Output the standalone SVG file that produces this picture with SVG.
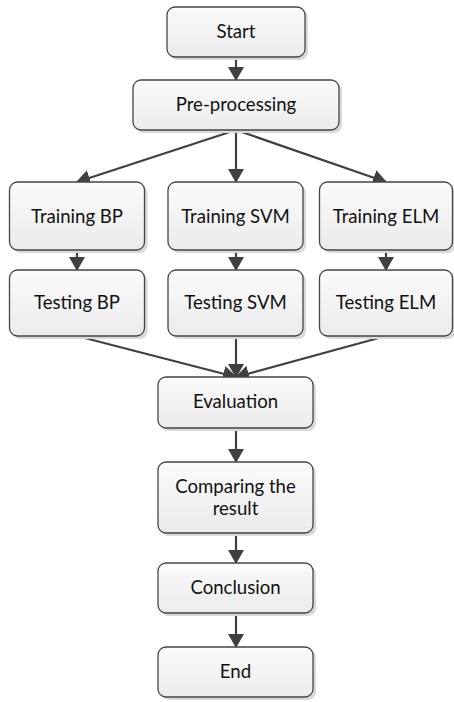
<svg xmlns="http://www.w3.org/2000/svg" width="454" height="702" viewBox="0 0 454 702">
<defs>
<linearGradient id="g" x1="0" y1="0" x2="0" y2="1">
<stop offset="0" stop-color="#fbfbfb"/>
<stop offset="1" stop-color="#ebebeb"/>
</linearGradient>
<marker id="ah" markerUnits="userSpaceOnUse" markerWidth="14" markerHeight="16" refX="13" refY="8" orient="auto" viewBox="0 0 14 16">
<path d="M0,0 L14,8 L0,16 z" fill="#404040"/>
</marker>
<style>
.sh{fill:#d9d9d9;stroke:none}
.bx{fill:url(#g);stroke:#454545;stroke-width:1.3}
.t{font-family:Lato,"Liberation Sans",sans-serif;font-size:18.6px;fill:#111;text-anchor:middle}
.c{stroke:#404040;stroke-width:2.2;fill:none;marker-end:url(#ah)}
</style>
</defs>
<g id="connectors">
<line class="c" x1="236" y1="57" x2="236" y2="80"/>
<line class="c" x1="236" y1="130" x2="77" y2="182"/>
<line class="c" x1="236" y1="130" x2="236" y2="182"/>
<line class="c" x1="236" y1="130" x2="386" y2="182"/>
<line class="c" x1="77" y1="250" x2="77" y2="270"/>
<line class="c" x1="236" y1="250" x2="236" y2="270"/>
<line class="c" x1="386" y1="250" x2="386" y2="270"/>
<line class="c" x1="77" y1="336" x2="236" y2="377"/>
<line class="c" x1="236" y1="336" x2="236" y2="377"/>
<line class="c" x1="386" y1="336" x2="236" y2="377"/>
<line class="c" x1="236" y1="428" x2="236" y2="462"/>
<line class="c" x1="236" y1="533" x2="236" y2="563"/>
<line class="c" x1="236" y1="613" x2="236" y2="647"/>
</g>
<g id="start">
<rect class="sh" x="170" y="10" width="138" height="50" rx="8"/>
<rect class="bx" x="167" y="7" width="138" height="50" rx="8"/>
<text class="t" x="236" y="38">Start</text>
</g>
<g id="preprocessing">
<rect class="sh" x="136" y="83" width="206" height="50" rx="8"/>
<rect class="bx" x="133" y="80" width="206" height="50" rx="8"/>
<text class="t" x="236" y="111">Pre-processing</text>
</g>
<g id="training-bp">
<rect class="sh" x="12.5" y="185" width="135" height="68" rx="8"/>
<rect class="bx" x="9.5" y="182" width="135" height="68" rx="8"/>
<text class="t" x="77" y="223">Training BP</text>
</g>
<g id="training-svm">
<rect class="sh" x="171" y="185" width="135" height="68" rx="8"/>
<rect class="bx" x="168" y="182" width="135" height="68" rx="8"/>
<text class="t" x="235.5" y="223">Training SVM</text>
</g>
<g id="training-elm">
<rect class="sh" x="322.5" y="185" width="133" height="68" rx="8"/>
<rect class="bx" x="319.5" y="182" width="133" height="68" rx="8"/>
<text class="t" x="386" y="223">Training ELM</text>
</g>
<g id="testing-bp">
<rect class="sh" x="12.5" y="273" width="135" height="66" rx="8"/>
<rect class="bx" x="9.5" y="270" width="135" height="66" rx="8"/>
<text class="t" x="77" y="309">Testing BP</text>
</g>
<g id="testing-svm">
<rect class="sh" x="171" y="273" width="135" height="66" rx="8"/>
<rect class="bx" x="168" y="270" width="135" height="66" rx="8"/>
<text class="t" x="235.5" y="309">Testing SVM</text>
</g>
<g id="testing-elm">
<rect class="sh" x="322.5" y="273" width="133" height="66" rx="8"/>
<rect class="bx" x="319.5" y="270" width="133" height="66" rx="8"/>
<text class="t" x="386" y="309">Testing ELM</text>
</g>
<g id="evaluation">
<rect class="sh" x="161" y="380" width="155" height="51" rx="8"/>
<rect class="bx" x="158" y="377" width="155" height="51" rx="8"/>
<text class="t" x="235.5" y="408">Evaluation</text>
</g>
<g id="comparing">
<rect class="sh" x="161" y="465" width="155" height="71" rx="8"/>
<rect class="bx" x="158" y="462" width="155" height="71" rx="8"/>
<text class="t" x="235.5" y="493">Comparing the</text>
<text class="t" x="235.5" y="515">result</text>
</g>
<g id="conclusion">
<rect class="sh" x="161" y="566" width="155" height="50" rx="8"/>
<rect class="bx" x="158" y="563" width="155" height="50" rx="8"/>
<text class="t" x="235.5" y="594">Conclusion</text>
</g>
<g id="end">
<rect class="sh" x="161" y="650" width="155" height="50" rx="8"/>
<rect class="bx" x="158" y="647" width="155" height="50" rx="8"/>
<text class="t" x="235.5" y="678">End</text>
</g>
</svg>
